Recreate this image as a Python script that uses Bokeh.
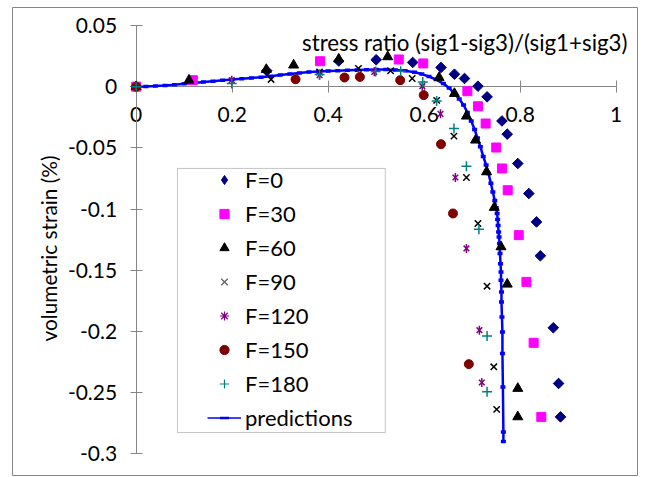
import numpy as np
from bokeh.plotting import figure
from bokeh.models import (Range1d, FixedTicker, Label, BoxAnnotation, Legend,
                          LegendItem, CustomJSTickFormatter)
from bokeh.embed import file_html
from bokeh.resources import INLINE

# ---------------- data ----------------
x_ticks = [0, 0.2, 0.4, 0.6, 0.8, 1.0]
x_tick_labels = ["0", "0.2", "0.4", "0.6", "0.8", "1"]
y_ticks = [0.05, 0, -0.05, -0.1, -0.15, -0.2, -0.25, -0.3]
y_tick_labels = ["0.05", "0", "-0.05", "-0.1", "-0.15", "-0.2", "-0.25", "-0.3"]

x_title = "stress ratio (sig1-sig3)/(sig1+sig3)"
y_title = "volumetric strain (%)"

f0_x = [0, 0.272, 0.422, 0.500, 0.576, 0.635, 0.663, 0.684, 0.712, 0.731, 0.762, 0.773,
        0.795, 0.818, 0.834, 0.842, 0.869, 0.880, 0.884]
f0_y = [0, 0.013, 0.021, 0.022, 0.0198, 0.0157, 0.0102, 0.0067, 0.0004, -0.0083, -0.028,
        -0.0388, -0.0628, -0.0873, -0.1105, -0.1382, -0.197, -0.2425, -0.2698]

f30_x = [0, 0.118, 0.383, 0.547, 0.598, 0.690, 0.712, 0.728, 0.750, 0.762, 0.774, 0.797,
         0.813, 0.828, 0.844]
f30_y = [0, 0.0053, 0.0208, 0.0222, 0.019, -0.0037, -0.016, -0.0301, -0.0497, -0.0668,
         -0.0846, -0.1213, -0.1595, -0.2093, -0.2698]

f60_x = [0, 0.110, 0.271, 0.328, 0.422, 0.524, 0.631, 0.663, 0.688, 0.707, 0.730, 0.746,
         0.760, 0.773, 0.795, 0.795]
f60_y = [0, 0.0053, 0.014, 0.0176, 0.0225, 0.0244, 0.0075, -0.0056, -0.0241, -0.0437,
         -0.0696, -0.0987, -0.1309, -0.1614, -0.2466, -0.2698]

f90_x = [0, 0.281, 0.382, 0.463, 0.530, 0.575, 0.626, 0.662, 0.688, 0.712, 0.731, 0.745, 0.751]
f90_y = [0, 0.0059, 0.012, 0.0149, 0.013, 0.0067, -0.0112, -0.0404, -0.0742, -0.1118,
         -0.163, -0.2289, -0.2637]

f120_x = [0, 0.199, 0.382, 0.496, 0.596, 0.634, 0.665, 0.688, 0.715, 0.720]
f120_y = [0, 0.0053, 0.0094, 0.0121, 0.0004, -0.0222, -0.0742, -0.1322, -0.199, -0.2417]

f150_x = [0, 0.332, 0.434, 0.466, 0.550, 0.599, 0.635, 0.660, 0.693]
f150_y = [0, 0.0061, 0.0075, 0.008, 0.0053, -0.0069, -0.047, -0.1036, -0.2267]

f180_x = [0, 0.199, 0.382, 0.499, 0.551, 0.597, 0.626, 0.662, 0.688, 0.714, 0.731, 0.731]
f180_y = [0, 0.0026, 0.010, 0.0125, 0.0127, 0.0039, -0.0116, -0.0342, -0.065, -0.1164,
          -0.2038, -0.2493]

pred_x = [0.0, 0.02, 0.04, 0.06, 0.08, 0.10, 0.12, 0.14, 0.16, 0.18, 0.20, 0.22, 0.24,
          0.26, 0.28, 0.30, 0.32, 0.34, 0.36, 0.38, 0.40, 0.42, 0.44, 0.46, 0.48, 0.50,
          0.52, 0.54, 0.56, 0.58, 0.595, 0.61, 0.625, 0.64, 0.652, 0.663, 0.673, 0.682,
          0.690, 0.698, 0.705, 0.711, 0.717, 0.723, 0.729, 0.734, 0.739, 0.743, 0.747,
          0.750, 0.752, 0.753, 0.754, 0.755, 0.756, 0.757, 0.758, 0.759, 0.760, 0.760,
          0.761, 0.761, 0.762, 0.763, 0.763, 0.764, 0.765, 0.765]
pred_y = [0.0, 0.0002, 0.0005, 0.0009, 0.0015, 0.0023, 0.0031, 0.0038, 0.0045, 0.0052,
          0.0058, 0.0064, 0.0071, 0.0078, 0.0086, 0.0095, 0.0104, 0.0112, 0.0119, 0.0124,
          0.0128, 0.0131, 0.0134, 0.0137, 0.0139, 0.0140, 0.0140, 0.0137, 0.0131, 0.0118,
          0.0103, 0.0083, 0.0058, 0.0025, -0.0010, -0.0056, -0.0100, -0.0150, -0.0210,
          -0.0280, -0.0350, -0.0420, -0.0490, -0.0570, -0.0640, -0.0710, -0.0790, -0.0860,
          -0.0930, -0.0990, -0.1036, -0.1085, -0.1134, -0.1187, -0.1228, -0.1282, -0.1364,
          -0.1446, -0.1514, -0.1582, -0.1678, -0.1759, -0.1882, -0.2005, -0.2181, -0.2454,
          -0.2822, -0.2900]

# ---------------- figure ----------------
FONT = "Lato"
TXT = "#000000"
AX = "#868686"

p = figure(width=639, height=476,
           x_range=Range1d(-0.2577, 1.0444), y_range=Range1d(-0.3177, 0.0647),
           output_backend="svg", toolbar_location=None,
           min_border_left=12, min_border_right=2, min_border_top=7, min_border_bottom=1)
p.background_fill_color = "white"
p.border_fill_color = "white"
p.outline_line_color = AX
p.outline_line_width = 1
p.grid.visible = False
# range used only for the legend swatches (their marks fall outside the frame)
p.extra_y_ranges = {"legend_only": Range1d(1000, 1001)}

tick_code = """
const i = tvals.findIndex(t => Math.abs(t - tick) < 1e-9);
return i >= 0 ? tlabels[i] : '';
"""

xa = p.xaxis[0]
xa.fixed_location = 0
xa.bounds = (0, 1)
xa.ticker = FixedTicker(ticks=x_ticks)
xa.formatter = CustomJSTickFormatter(args=dict(tvals=x_ticks, tlabels=x_tick_labels), code=tick_code)
xa.minor_tick_line_color = None
xa.major_tick_in = 6
xa.major_tick_out = 6
xa.axis_line_color = AX
xa.major_tick_line_color = AX
xa.major_label_text_font = FONT
xa.major_label_text_font_size = "21px"
xa.major_label_text_color = TXT
xa.major_label_standoff = 14
xa.level = "underlay"

ya = p.yaxis[0]
ya.fixed_location = 0
ya.bounds = (-0.3, 0.05)
ya.ticker = FixedTicker(ticks=y_ticks)
ya.formatter = CustomJSTickFormatter(args=dict(tvals=y_ticks, tlabels=y_tick_labels), code=tick_code)
ya.minor_tick_line_color = None
ya.major_tick_in = 6
ya.major_tick_out = 6
ya.axis_line_color = AX
ya.major_tick_line_color = AX
ya.major_label_text_font = FONT
ya.major_label_text_font_size = "21px"
ya.major_label_text_color = TXT
ya.major_label_standoff = 13
ya.level = "underlay"

# y-axis title (placed as in the reference)
p.add_layout(Label(x=-0.1821, y=-0.1322, text=y_title, angle=np.pi / 2,
                   text_align="center", text_baseline="middle", text_font=FONT,
                   text_font_size="20.8px", text_color=TXT))

# x-axis title at top right
p.add_layout(Label(x=1.0235, y=0.0364, text=x_title, text_align="right",
                   text_baseline="alphabetic", text_font=FONT, text_font_size="22.3px",
                   text_color=TXT))

# legend frame
p.add_layout(BoxAnnotation(left=0.086, right=0.519, top=-0.0668, bottom=-0.2826,
                           fill_alpha=0, line_color="#404040", line_width=1, level="underlay"))

# prediction line
pl = p.line(pred_x, pred_y, line_color="#0000FF", line_width=2.5)
pm = p.scatter(pred_x, pred_y, marker="dash", size=5, line_color="#0000FF", line_width=3.5)

r0 = p.scatter(f0_x, f0_y, marker="square", angle=np.pi / 4, size=7.5,
               fill_color="#000080", line_color="#000080")
r30 = p.scatter(f30_x, f30_y, marker="square", size=9,
                fill_color="#FF00FF", line_color="#FF00FF")
r60 = p.scatter(f60_x, f60_y, marker="triangle", size=10,
                fill_color="#000000", line_color="#000000")
r90 = p.scatter(f90_x, f90_y, marker="x", size=9, line_color="#000000", line_width=1.5)
r120a = p.scatter(f120_x, f120_y, marker="x", size=8, line_color="#800080", line_width=1.5)
r120b = p.scatter(f120_x, f120_y, marker="dash", angle=np.pi / 2, size=9,
                  line_color="#800080", line_width=1.5)
r150 = p.scatter(f150_x, f150_y, marker="circle", size=9,
                 fill_color="#800000", line_color="#800000")
r180 = p.scatter(f180_x, f180_y, marker="cross", size=10, line_color="#008080", line_width=1.5)

# legend swatches (legend markers are drawn unrotated, so use matching shapes)
LO = dict(y_range_name="legend_only")
lg0 = p.scatter(f0_x, f0_y, marker="diamond", fill_color="#000080", line_color="#000080", **LO)
lg90 = p.scatter(f90_x, f90_y, marker="x", line_color="#606060", line_width=1.2, **LO)
lg120 = p.scatter(f120_x, f120_y, marker="asterisk", line_color="#800080", line_width=1.2, **LO)
lg180 = p.scatter(f180_x, f180_y, marker="cross", line_color="#008080", line_width=1.2, **LO)
lgl = p.line(pred_x, pred_y, line_color="#0000FF", line_width=1.5, **LO)
lgp = p.scatter(pred_x, pred_y, marker="dash", line_color="#0000FF", line_width=2.5, **LO)

legend = Legend(items=[
    LegendItem(label="F=0", renderers=[lg0]),
    LegendItem(label="F=30", renderers=[r30]),
    LegendItem(label="F=60", renderers=[r60]),
    LegendItem(label="F=90", renderers=[lg90]),
    LegendItem(label="F=120", renderers=[lg120]),
    LegendItem(label="F=150", renderers=[r150]),
    LegendItem(label="F=180", renderers=[lg180]),
    LegendItem(label="predictions", renderers=[lgl, lgp]),
], location=(195, 44))
legend.padding = 0
legend.margin = 0
legend.border_line_color = None
legend.background_fill_alpha = 0
legend.glyph_width = 34
legend.glyph_height = 23
legend.label_height = 25
legend.spacing = 7
legend.label_standoff = 4
legend.label_text_font = FONT
legend.label_text_font_size = "22px"
legend.label_text_color = TXT
p.add_layout(legend)

open("out.html", "w").write(file_html(p, INLINE))
